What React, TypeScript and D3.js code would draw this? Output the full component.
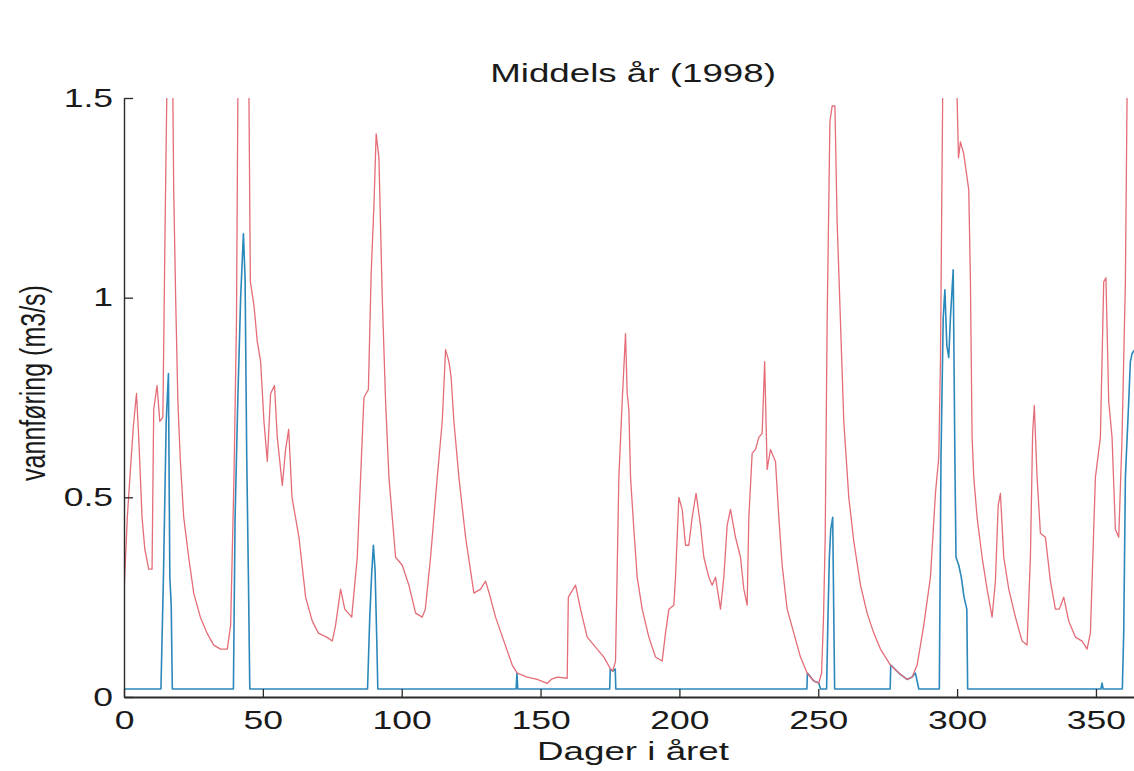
import { useRef, useEffect } from "react";
import * as d3 from "d3";

const WIDTH = 1134;
const HEIGHT = 771;

const title = "Middels år (1998)";
const xLabel = "Dager i året";
const yLabel = "vannføring (m3/s)";
const xTicks = [0, 50, 100, 150, 200, 250, 300, 350];
const yTicks = [0, 0.5, 1, 1.5];

// natural flow [day, m3/s] (values above 1.5 are cut by the axes)
const naturalFlow: [number, number][] = [
  [0, 0.26], [1.2, 0.45], [2.4, 0.58], [3.4, 0.68], [4.5, 0.76], [5.3, 0.65], [6.5, 0.45], [7.5, 0.37],
  [8.9, 0.32], [10.1, 0.32], [10.7, 0.72], [11.9, 0.78], [12.9, 0.69], [14.0, 0.7], [14.8, 1.18], [15.4, 1.5],
  [16.2, 1.85], [17.2, 1.6], [17.6, 1.5], [17.9, 1.27], [18.6, 1.0], [19.4, 0.74], [20.3, 0.59], [21.5, 0.45],
  [23.3, 0.35], [25.1, 0.26], [27.5, 0.2], [29.9, 0.16], [32.3, 0.13], [34.8, 0.12], [37.2, 0.12], [38.4, 0.18],
  [39.6, 0.55], [40.5, 0.94], [41.0, 1.5], [42.5, 2.1], [44.5, 1.7], [45.0, 1.5], [45.5, 1.04], [46.8, 0.98],
  [48.0, 0.89], [49.2, 0.84], [50.4, 0.69], [51.6, 0.59], [52.8, 0.76], [54.2, 0.78], [55.2, 0.65], [57.0, 0.53],
  [58.2, 0.62], [59.3, 0.67], [60.5, 0.5], [63, 0.4], [65.4, 0.25], [67.8, 0.19], [70, 0.16], [73, 0.15],
  [75, 0.14], [76.2, 0.18], [78, 0.27], [79.5, 0.22], [82, 0.2], [84, 0.35], [85.2, 0.55], [86.4, 0.75],
  [88, 0.77], [89, 1.06], [90, 1.23], [90.8, 1.41], [91.8, 1.35], [93, 1.0], [94.2, 0.74], [95.4, 0.55],
  [97.8, 0.35], [100.2, 0.33], [102.6, 0.28], [105, 0.21], [107.4, 0.2], [108.5, 0.22], [110.4, 0.35], [112.8, 0.55],
  [114.6, 0.69], [115.8, 0.87], [117, 0.84], [117.8, 0.8], [118.8, 0.69], [120.6, 0.55], [123, 0.4], [126, 0.26],
  [128.4, 0.27], [130.2, 0.29], [131.5, 0.26], [133.8, 0.2], [136.8, 0.14], [139.8, 0.08], [141.6, 0.06], [145.2, 0.05],
  [148.8, 0.044], [152.4, 0.034], [154, 0.045], [156, 0.05], [159.6, 0.047], [160.0, 0.25], [162.6, 0.28], [164.4, 0.22],
  [166.8, 0.15], [169.2, 0.13], [172.8, 0.1], [175.2, 0.07], [176, 0.065], [177, 0.09], [178.2, 0.55], [179.4, 0.74],
  [180.6, 0.91], [181.2, 0.76], [181.8, 0.72], [182.4, 0.55], [183.6, 0.42], [184.8, 0.3], [186.6, 0.22], [189, 0.15],
  [191.4, 0.1], [193.8, 0.09], [195, 0.16], [196.2, 0.22], [198, 0.23], [198.6, 0.3], [199.8, 0.5], [201, 0.47],
  [202.2, 0.38], [203.4, 0.38], [204.6, 0.45], [206, 0.51], [207.6, 0.43], [208.8, 0.35], [210.6, 0.3], [211.8, 0.28],
  [213, 0.3], [214.8, 0.22], [216, 0.3], [217.2, 0.43], [218.4, 0.47], [220.2, 0.4], [222, 0.35], [223.2, 0.27],
  [224.4, 0.23], [225, 0.45], [226.2, 0.61], [227.4, 0.62], [228.6, 0.65], [229.8, 0.66], [230.7, 0.84], [231.6, 0.57],
  [232.8, 0.62], [234.6, 0.59], [235.8, 0.45], [237, 0.33], [238.8, 0.22], [241.2, 0.16], [243.6, 0.1], [246, 0.06],
  [248.4, 0.04], [250.2, 0.035], [251.2, 0.06], [251.9, 0.2], [252.5, 0.4], [253.2, 0.94], [254.2, 1.44], [255, 1.48],
  [256, 1.48], [256.8, 1.19], [258, 0.94], [259.2, 0.69], [261, 0.5], [262.8, 0.39], [265.2, 0.28], [267.6, 0.21],
  [270, 0.16], [272.4, 0.12], [276, 0.08], [279, 0.06], [282, 0.044], [283.8, 0.05], [285.6, 0.08], [288, 0.18],
  [290.4, 0.3], [292.2, 0.51], [293.4, 0.6], [294, 0.84], [294.8, 1.5], [296, 1.9], [299, 1.9], [300, 1.5],
  [300.5, 1.35], [301.2, 1.39], [302.4, 1.36], [303.2, 1.32], [304.2, 1.27], [304.8, 1.04], [305.4, 0.65], [306, 0.55],
  [307.2, 0.45], [309, 0.35], [310.8, 0.27], [312.6, 0.2], [313.8, 0.29], [314.8, 0.48], [315.6, 0.51], [316.8, 0.35],
  [318.6, 0.27], [321, 0.2], [323.4, 0.14], [325.2, 0.13], [326.4, 0.35], [327.2, 0.66], [327.8, 0.73], [328.8, 0.55],
  [330, 0.41], [331.8, 0.4], [333.6, 0.29], [335.4, 0.22], [336.8, 0.22], [338.4, 0.25], [340.2, 0.19], [342.6, 0.15],
  [345, 0.14], [346.8, 0.12], [348, 0.16], [349.8, 0.55], [351.6, 0.65], [352.8, 1.04], [353.6, 1.05], [354.6, 0.74],
  [355.8, 0.65], [357, 0.42], [358.2, 0.4], [359.4, 0.65], [360.6, 1.04], [361.2, 1.5], [363, 1.8], [365, 1.8],
];

// residual flow [day, m3/s]
const residualFlow: [number, number][] = [
  [0, 0.02], [13.3, 0.02], [14.2, 0.3], [15.2, 0.69], [16, 0.81], [16.5, 0.3], [17, 0.23], [17.4, 0.02],
  [39.4, 0.02], [40, 0.45], [41, 0.75], [42, 1.0], [43, 1.16], [43.6, 1.05], [44.2, 0.6], [44.8, 0.3], [45.3, 0.02],
  [87.7, 0.02], [88.5, 0.2], [89.2, 0.31], [89.8, 0.38], [90.4, 0.32], [91, 0.15], [91.4, 0.02],
  [141.2, 0.02], [141.5, 0.06], [141.8, 0.02],
  [174.9, 0.02], [175.1, 0.07], [176, 0.065], [176.9, 0.07], [177.1, 0.02],
  [245.9, 0.02], [246.1, 0.06], [248.4, 0.04], [250.2, 0.035], [250.8, 0.02], [253, 0.02], [253.5, 0.2], [254, 0.35],
  [254.5, 0.42], [255.2, 0.45], [255.6, 0.2], [255.9, 0.02],
  [275.9, 0.02], [276.1, 0.08], [279, 0.06], [282, 0.044], [283.8, 0.05], [285, 0.06], [286.2, 0.02],
  [293.6, 0.02], [294.2, 0.6], [295, 0.95], [295.6, 1.02], [296.3, 0.88], [297, 0.85], [297.6, 0.95], [298.6, 1.07],
  [299.2, 0.6], [299.6, 0.35], [300.6, 0.33], [301.5, 0.3], [302.5, 0.25], [303.5, 0.22], [303.8, 0.02],
  [351.8, 0.02], [352.2, 0.035], [352.6, 0.02],
  [359.5, 0.02], [360, 0.16], [360.6, 0.55], [361.8, 0.74], [362.4, 0.84], [363, 0.86], [365, 0.88],
];

const FONT = "'Liberation Sans', Arial, Helvetica, sans-serif";

export default function App() {
  const svgRef = useRef<SVGSVGElement>(null);

  useEffect(() => {
    const svg = d3.select(svgRef.current);
    svg.selectAll("*").remove();

    const x = d3.scaleLinear().domain([0, 365]).range([124, 124 + 365 * 2.777]);
    const y = d3.scaleLinear().domain([0, 1.5]).range([697, 98]);

    svg.append("rect").attr("width", WIDTH).attr("height", HEIGHT).attr("fill", "#fff");

    svg.append("clipPath").attr("id", "plot-clip")
      .append("rect")
      .attr("x", x(0)).attr("y", y(1.5))
      .attr("width", WIDTH).attr("height", y(0) - y(1.5) + 4);

    const line = d3.line<[number, number]>().x((d) => x(d[0])).y((d) => y(d[1]));
    const plot = svg.append("g").attr("clip-path", "url(#plot-clip)");

    plot.append("path").datum(residualFlow)
      .attr("d", line).attr("fill", "none")
      .attr("stroke", "#2b88bb").attr("stroke-width", 1.6).attr("stroke-linejoin", "round");

    plot.append("path").datum(naturalFlow)
      .attr("d", line).attr("fill", "none")
      .attr("stroke", "#e46d78").attr("stroke-width", 1.3).attr("stroke-linejoin", "round");

    // X axis
    const xAxisG = svg.append("g").attr("transform", `translate(0,${y(0)})`).call(
      d3.axisBottom(x).tickValues(xTicks).tickSize(-8).tickSizeOuter(0).tickPadding(14).tickFormat((d) => String(d))
    );
    xAxisG.select(".domain").attr("stroke", "#2a2a2a").attr("stroke-width", 2);
    xAxisG.selectAll(".tick line").attr("stroke", "#2a2a2a").attr("stroke-width", 1.3);
    xAxisG.selectAll("text")
      .attr("fill", "#1a1a1a").attr("font-family", FONT).attr("font-size", 25)
      .attr("transform", "scale(1.42,1)");

    // Y axis
    const yAxisG = svg.append("g").attr("transform", `translate(${x(0)},0)`).call(
      d3.axisLeft(y).tickValues(yTicks).tickSize(-9).tickSizeOuter(0).tickPadding(11).tickFormat((d) => String(d))
    );
    yAxisG.select(".domain").attr("stroke", "#2a2a2a").attr("stroke-width", 1.4);
    yAxisG.selectAll(".tick line").attr("stroke", "#2a2a2a").attr("stroke-width", 1.3);
    yAxisG.selectAll("text")
      .attr("x", null)
      .attr("fill", "#1a1a1a").attr("font-family", FONT).attr("font-size", 25)
      .attr("transform", "translate(-11,0) scale(1.42,1)");

    const label = (txt: string, tx: number, ty: number, transform: string) =>
      svg.append("text")
        .attr("transform", `translate(${tx},${ty}) ${transform}`)
        .attr("text-anchor", "middle")
        .attr("fill", "#1a1a1a").attr("font-family", FONT).attr("font-size", 25)
        .text(txt);

    label(title, 633, 82, "scale(1.47,1)");
    label(xLabel, 633, 760, "scale(1.47,1)");
    label(yLabel, 45, 383, "scale(1.4,1) rotate(-90)");
  }, []);

  return (
    <svg
      ref={svgRef}
      width={WIDTH}
      height={HEIGHT}
      style={{ position: "absolute", left: 0, top: 0 }}
    />
  );
}
